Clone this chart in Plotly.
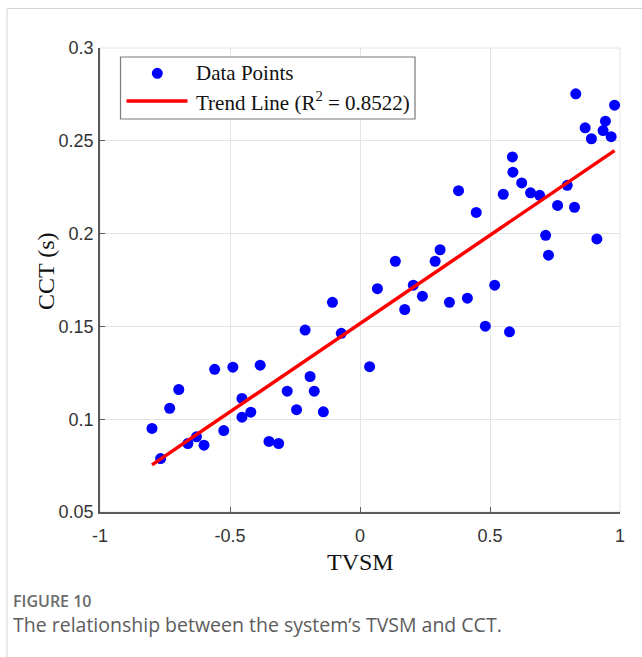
import numpy as np
import plotly.graph_objects as go

# Sample data: transient voltage security margin vs. critical clearing time
tvsm = [-0.800, -0.767, -0.732, -0.697, -0.662, -0.629, -0.600, -0.559, -0.524, -0.489,
        -0.454, -0.454, -0.420, -0.384, -0.350, -0.313, -0.280, -0.244, -0.211, -0.192,
        -0.176, -0.141, -0.106, -0.072, 0.037, 0.067, 0.136, 0.172, 0.205, 0.240,
        0.289, 0.308, 0.344, 0.379, 0.413, 0.447, 0.482, 0.518, 0.551, 0.575,
        0.586, 0.588, 0.622, 0.656, 0.691, 0.714, 0.725, 0.760, 0.797, 0.825,
        0.830, 0.911, 0.866, 0.890, 0.979, 0.944, 0.935, 0.966]
cct = [0.0950, 0.0788, 0.1059, 0.1160, 0.0869, 0.0905, 0.0860, 0.1269, 0.0939, 0.1280,
       0.1112, 0.1011, 0.1038, 0.1291, 0.0880, 0.0869, 0.1151, 0.1051, 0.1480, 0.1230,
       0.1151, 0.1040, 0.1630, 0.1463, 0.1283, 0.1703, 0.1851, 0.1591, 0.1722, 0.1663,
       0.1851, 0.1913, 0.1630, 0.2231, 0.1652, 0.2114, 0.1501, 0.1722, 0.2212, 0.1471,
       0.2413, 0.2331, 0.2273, 0.2220, 0.2206, 0.1991, 0.1884, 0.2152, 0.2260, 0.2142,
       0.2753, 0.1971, 0.2570, 0.2511, 0.2692, 0.2606, 0.2555, 0.2522]

x_ticks = [-1, -0.5, 0, 0.5, 1]
x_tick_labels = ["-1", "-0.5", "0", "0.5", "1"]
y_ticks = [0.05, 0.1, 0.15, 0.2, 0.25, 0.3]
y_tick_labels = ["0.05", "0.1", "0.15", "0.2", "0.25", "0.3"]
r_squared_label = "0.8522"

# Least-squares trend line across the sampled TVSM span
slope, intercept = np.polyfit(tvsm, cct, 1)
trend_x = np.array([min(tvsm), max(tvsm)])
trend_y = slope * trend_x + intercept

W, H = 642, 657
ML, MR, MT, MB = 100, 22, 48, 145
PW, PH = W - ML - MR, H - MT - MB


def px(x):
    return (x - ML) / PW


def py(y):
    return (H - MB - y) / PH


fig = go.Figure()
fig.add_trace(go.Scatter(
    x=tvsm, y=cct, mode="markers",
    marker=dict(color="#0000ff", size=11, line=dict(width=0)),
    showlegend=False, hoverinfo="x+y"))
fig.add_trace(go.Scatter(
    x=trend_x, y=trend_y, mode="lines",
    line=dict(color="#ff0000", width=3.5),
    showlegend=False))

tick_font = dict(family="Liberation Sans, Arial, sans-serif", size=18, color="#333333")
serif = "Liberation Serif, Times New Roman, serif"

fig.update_xaxes(
    range=[-1, 1], tickvals=x_ticks, ticktext=x_tick_labels,
    showgrid=True, gridcolor="#e4e4e4", gridwidth=1, zeroline=False,
    showline=True, linecolor="#5a5a5a", linewidth=1.5,
    ticks="inside", ticklen=5, tickcolor="#5a5a5a", tickwidth=1,
    tickfont=tick_font, ticklabelstandoff=7)
fig.update_yaxes(
    range=[0.05, 0.3], tickvals=y_ticks, ticktext=y_tick_labels,
    showgrid=True, gridcolor="#e4e4e4", gridwidth=1, zeroline=False,
    showline=True, linecolor="#5a5a5a", linewidth=1.5,
    ticks="inside", ticklen=5, tickcolor="#5a5a5a", tickwidth=1,
    tickfont=tick_font, ticklabelstandoff=1)

shapes = [
    # light border on the top and right of the axes box
    dict(type="rect", xref="paper", yref="paper", x0=0, x1=1, y0=0, y1=1,
         line=dict(color="#e4e4e4", width=1), layer="below"),
    # card frame
    dict(type="line", xref="paper", yref="paper", x0=px(7), x1=px(W), y0=py(8.5), y1=py(8.5),
         line=dict(color="#d4d4d4", width=1)),
    dict(type="line", xref="paper", yref="paper", x0=px(7), x1=px(7), y0=py(8.5), y1=py(H),
         line=dict(color="#d4d4d4", width=1)),
    # legend box
    dict(type="rect", xref="paper", yref="paper", x0=px(120.5), x1=px(415), y0=py(119), y1=py(57),
         line=dict(color="#7a7a7a", width=1.2), fillcolor="white", layer="above"),
    # legend marker
    dict(type="circle", xref="paper", yref="paper", xsizemode="pixel", ysizemode="pixel",
         xanchor=px(157.3), yanchor=py(73.3), x0=-5.5, x1=5.5, y0=-5.5, y1=5.5,
         line=dict(width=0), fillcolor="#0000ff", layer="above"),
    # legend line
    dict(type="line", xref="paper", yref="paper", x0=px(126.5), x1=px(187.5), y0=py(101), y1=py(101),
         line=dict(color="#ff0000", width=3.5), layer="above"),
]

annotations = [
    dict(text="Data Points", x=px(194), y=py(73.5), xanchor="left", yanchor="middle",
         font=dict(family=serif, size=21, color="#111111")),
    dict(text="Trend Line (R<sup>2</sup> = %s)" % r_squared_label, x=px(194), y=py(101),
         xanchor="left", yanchor="middle",
         font=dict(family=serif, size=21, color="#111111")),
    dict(text="TVSM", x=px(360), y=py(561.5), xanchor="center", yanchor="middle",
         font=dict(family=serif, size=24, color="#111111")),
    dict(text="CCT (s)", x=px(46), y=py(271), xanchor="center", yanchor="middle", textangle=-90,
         font=dict(family=serif, size=24, color="#111111")),
    dict(text="FIGURE 10", x=px(11), y=py(601), xanchor="left", yanchor="middle",
         font=dict(family="Open Sans, Noto Sans, sans-serif", size=16, color="#6b6b6b", weight=600)),
    dict(text="The relationship between the system\u2019s TVSM and CCT.", x=px(11), y=py(624),
         xanchor="left", yanchor="middle",
         font=dict(family="Open Sans, Noto Sans, sans-serif", size=19.5, color="#5c5c5c")),
]
for a in annotations:
    a.update(xref="paper", yref="paper", showarrow=False)

fig.update_layout(
    width=W, height=H, margin=dict(l=ML, r=MR, t=MT, b=MB),
    paper_bgcolor="white", plot_bgcolor="white",
    shapes=shapes, annotations=annotations, showlegend=False)

fig.write_html("out.html")
